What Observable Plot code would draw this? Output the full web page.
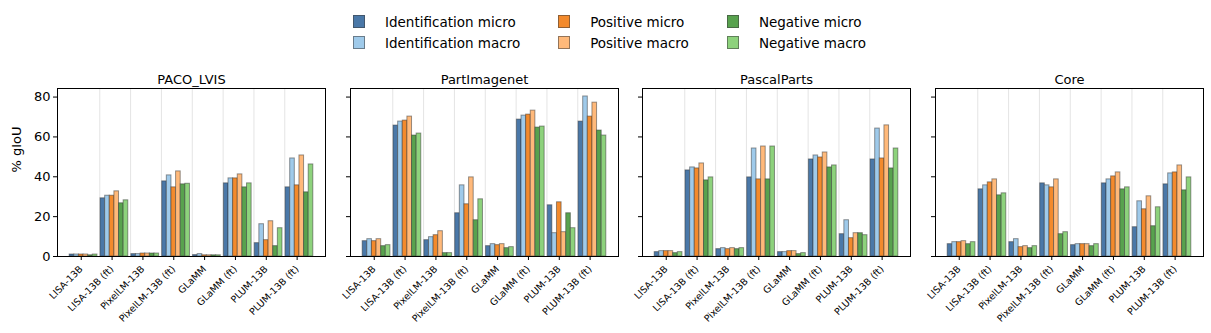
<!DOCTYPE html>
<html>
<head>
<meta charset="utf-8">
<script src="https://cdn.jsdelivr.net/npm/d3@7"></script>
<script src="https://cdn.jsdelivr.net/npm/@observablehq/plot@0.6"></script>
<style>
  html, body { margin: 0; padding: 0; background: #fff; }
  #root { position: relative; width: 1211px; height: 333px; background: #fff; font-family: "DejaVu Sans", sans-serif; overflow: hidden; }
  #legend { position: absolute; left: 353px; top: 11px; display: grid; grid-template-rows: 21px 21px; grid-auto-flow: column; column-gap: 38px; font-size: 13.5px; color: #000; }
  .item { display: flex; align-items: center; white-space: nowrap; }
  .swatch { width: 10px; height: 11px; margin-right: 20px; border: 1px solid rgba(60,60,60,0.55); }
  .panel { position: absolute; top: 68px; }
  .panel text { font-family: "DejaVu Sans", sans-serif; }
</style>
</head>
<body>
<div id="root"><div id="legend"></div></div>
<script>
const models = ["LISA-13B", "LISA-13B (ft)", "PixelLM-13B", "PixelLM-13B (ft)", "GLaMM", "GLaMM (ft)", "PLUM-13B", "PLUM-13B (ft)"];
const seriesNames = ["Identification micro", "Identification macro", "Positive micro", "Positive macro", "Negative micro", "Negative macro"];
const seriesColors = ["#4a78a8", "#9fcaea", "#f38a2c", "#ffb97a", "#58a24e", "#8dd27c"];
const datasets = ["PACO_LVIS", "PartImagenet", "PascalParts", "Core"];
const yTicks = [0, 20, 40, 60, 80];
const yLabel = "% gIoU";

// values[model][series]
const pacoLvis = [
  [1.0, 1.0, 1.0, 1.0, 0.6, 1.0],
  [29.2, 30.5, 30.5, 32.7, 26.7, 28.2],
  [1.2, 1.2, 1.5, 1.5, 1.5, 1.5],
  [37.7, 40.7, 34.7, 42.7, 36.2, 36.5],
  [0.7, 1.2, 0.6, 0.6, 0.6, 0.6],
  [36.7, 39.2, 39.2, 41.2, 34.7, 36.7],
  [6.7, 16.2, 8.2, 17.7, 5.2, 14.2],
  [34.7, 49.2, 35.7, 50.7, 32.2, 46.2]
];
const partImagenet = [
  [7.7, 8.7, 7.7, 8.7, 5.2, 5.7],
  [65.7, 67.7, 68.2, 70.2, 60.7, 61.7],
  [8.2, 9.7, 10.7, 12.7, 1.7, 1.7],
  [21.7, 35.7, 26.2, 39.7, 18.2, 28.7],
  [5.2, 6.2, 5.7, 6.2, 4.2, 4.7],
  [68.7, 70.7, 71.2, 73.2, 64.7, 65.2],
  [25.7, 11.7, 27.2, 12.2, 21.7, 14.2],
  [67.7, 80.3, 70.2, 77.2, 63.2, 60.7]
];
const pascalParts = [
  [2.2, 2.7, 2.7, 2.7, 1.7, 2.2],
  [43.2, 44.7, 44.2, 46.7, 38.2, 39.7],
  [3.7, 4.2, 3.7, 4.2, 3.7, 4.2],
  [39.7, 54.2, 38.7, 55.2, 38.7, 55.2],
  [2.2, 2.2, 2.7, 2.7, 1.2, 1.7],
  [48.7, 50.7, 49.7, 52.2, 44.7, 45.7],
  [11.2, 18.2, 9.2, 11.7, 11.7, 10.7],
  [48.7, 64.2, 49.2, 65.8, 44.2, 54.2]
];
const core = [
  [6.2, 7.2, 7.2, 7.7, 6.2, 7.2],
  [33.7, 35.7, 37.2, 38.7, 30.7, 31.7],
  [7.2, 8.7, 4.7, 5.2, 4.2, 5.2],
  [36.7, 35.7, 34.7, 38.7, 11.2, 12.2],
  [5.7, 6.2, 6.2, 6.2, 5.2, 6.2],
  [36.7, 38.7, 40.2, 42.2, 33.7, 34.7],
  [14.7, 27.7, 23.7, 30.2, 15.2, 24.7],
  [36.2, 41.7, 42.2, 45.7, 33.2, 39.7]
];
const allValues = [pacoLvis, partImagenet, pascalParts, core];

// legend
const legend = document.getElementById("legend");
seriesNames.forEach((s, j) => {
  const it = document.createElement("div");
  it.className = "item";
  const sw = document.createElement("span");
  sw.className = "swatch";
  sw.style.background = seriesColors[j];
  it.appendChild(sw);
  it.appendChild(document.createTextNode(s));
  legend.appendChild(it);
});

const frameLefts = [57, 349.5, 642, 934.5];
const frameWidth = 268;
const barW = 0.15;

function panel(name, values, k) {
  const first = k === 0;
  const rows = [];
  models.forEach((m, i) => seriesNames.forEach((s, j) => rows.push({model: m, i, series: s, j, value: values[i][j]})));
  const ML = first ? 57 : 20, MR = 8;
  const chart = Plot.plot({
    width: frameWidth + ML + MR,
    height: 265,
    marginTop: 20,
    marginBottom: 77,
    marginLeft: ML,
    marginRight: MR,
    style: {fontFamily: "DejaVu Sans", color: "#000", background: "transparent", overflow: "visible"},
    x: {domain: [-0.77, 7.92]},
    y: {domain: [0, 84.3]},
    color: {domain: seriesNames, range: seriesColors},
    marks: [
      Plot.ruleX(models.slice(1).map((m, i) => i + 0.6), {stroke: "#e4e4e4", strokeWidth: 1}),
      Plot.rectY(rows, {
        x1: d => d.i + (d.j - 2) * barW - barW / 2,
        x2: d => d.i + (d.j - 2) * barW + barW / 2,
        y: "value",
        fill: "series",
        stroke: "#333",
        strokeOpacity: 0.5,
        strokeWidth: 1
      }),
      Plot.axisX({ticks: models.map((m, i) => i), tickFormat: i => models[i], tickRotate: -45, tickSize: 4, tickPadding: 7, fontSize: 9.5, label: null}),
      Plot.axisY({ticks: yTicks, tickSize: 4, tickPadding: 3, fontSize: 13, tickFormat: first ? d => d : () => "", label: null}),
      Plot.frame({stroke: "#000", strokeWidth: 1}),
      Plot.text([name], {frameAnchor: "top", lineAnchor: "bottom", dy: -5, fontSize: 13, fill: "#000"}),
      first ? Plot.text([yLabel], {frameAnchor: "left", rotate: -90, dx: -41, fontSize: 13, fill: "#000"}) : null
    ]
  });
  chart.classList.add("panel");
  chart.style.left = (frameLefts[k] - ML) + "px";
  chart.style.position = "absolute";
  chart.style.top = "68px";
  return chart;
}

const root = document.getElementById("root");
datasets.forEach((d, k) => root.appendChild(panel(d, allValues[k], k)));
</script>
</body>
</html>
